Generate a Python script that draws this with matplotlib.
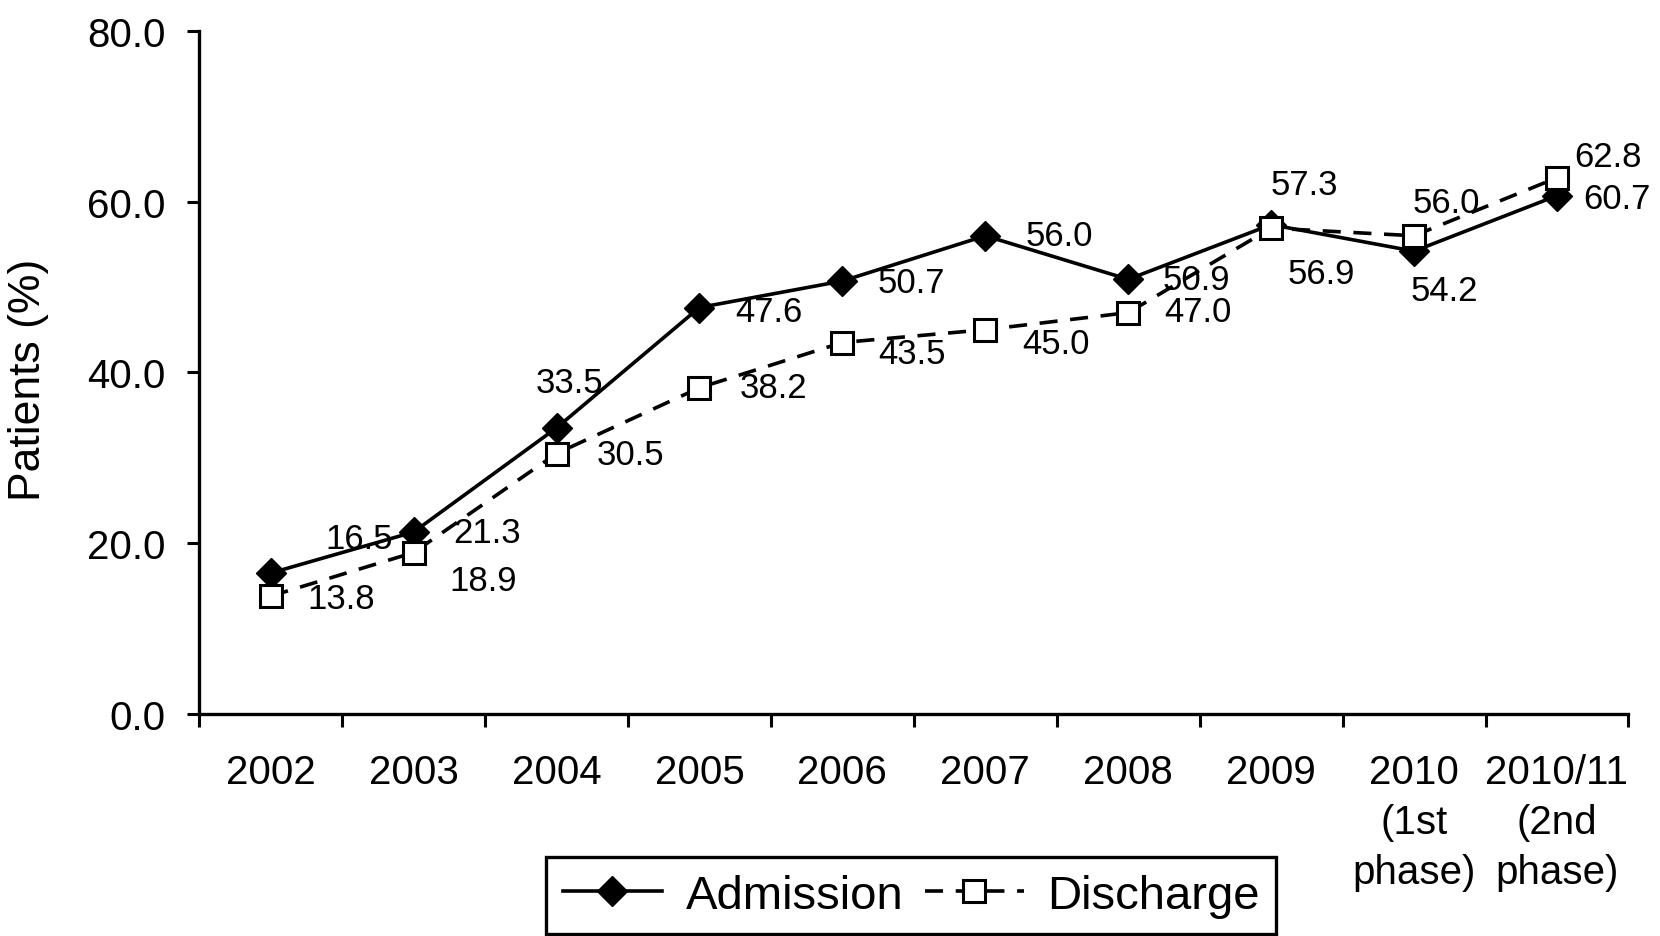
import matplotlib
matplotlib.use('Agg')
import matplotlib.pyplot as plt
import numpy as np

plt.rcParams['font.family'] = ['Liberation Sans', 'DejaVu Sans']

years = ['2002', '2003', '2004', '2005', '2006', '2007', '2008', '2009',
         '2010\n(1st\nphase)', '2010/11\n(2nd\nphase)']
admission = [16.5, 21.3, 33.5, 47.6, 50.7, 56.0, 50.9, 57.3, 54.2, 60.7]
discharge = [13.8, 18.9, 30.5, 38.2, 43.5, 45.0, 47.0, 56.9, 56.0, 62.8]

# label offsets in points (Excel-style placement)
adm_off = [(64, 25), (53, 0), (9, 33), (50, -3), (50, -1), (53, 0),
           (49, 0), (24, 29), (22, -28), (43, -2)]
dis_off = [(51, -2), (50, -20), (53, -1), (53, 0), (50, -8), (51, -10),
           (50, 1), (36, -33), (23, 24), (37, 15)]

x = np.arange(len(years))

fig = plt.figure(figsize=(16.6, 9.37), dpi=100)
ax = fig.add_axes([0.120, 0.237, 0.861, 0.729])

ax.plot(x, admission, color='black', lw=2.6, marker='D', ms=15,
        mfc='black', mec='black', label='Admission', zorder=3)
ax.plot(x, discharge, color='black', lw=2.6, ls=(0, (5, 3.5)), marker='s',
        ms=16, mfc='white', mec='black', mew=2.2, label='Discharge', zorder=3)

for i in range(len(x)):
    ax.annotate(f'{admission[i]:.1f}', (x[i], admission[i]), xytext=adm_off[i],
                textcoords='offset points', ha='center', va='center', fontsize=25)
    ax.annotate(f'{discharge[i]:.1f}', (x[i], discharge[i]), xytext=dis_off[i],
                textcoords='offset points', ha='center', va='center', fontsize=25)

ax.set_xlim(-0.5, len(years) - 0.5)
ax.set_ylim(0, 80)
ax.set_yticks(np.arange(0, 81, 20))
ax.set_yticklabels([f'{v:.1f}' for v in np.arange(0, 81, 20)])
ax.set_xticks(np.arange(-0.5, len(years), 1.0))
ax.set_xticklabels([])
ax.set_xticks(x, minor=True)
ax.set_xticklabels(years, minor=True, linespacing=1.4)

ax.tick_params(axis='y', which='major', direction='out', length=9, width=2.2,
               labelsize=29, pad=15)
ax.tick_params(axis='x', which='major', direction='out', length=9, width=2.2)
ax.tick_params(axis='x', which='minor', length=0, labelsize=29, pad=28)

for s in ['top', 'right']:
    ax.spines[s].set_visible(False)
for s in ['left', 'bottom']:
    ax.spines[s].set_linewidth(2.4)

ax.set_ylabel('Patients (%)', fontsize=32)
ax.yaxis.set_label_coords(-0.105, 0.49)

leg = fig.legend(loc='lower center', bbox_to_anchor=(0.549, 0.002), ncol=2,
                 fontsize=34, frameon=True, fancybox=False, framealpha=1,
                 edgecolor='black', handlelength=2.1, handletextpad=0.5,
                 columnspacing=0.45, borderpad=0.35, borderaxespad=0)
leg.get_frame().set_linewidth(2.4)

fig.savefig('out.png', dpi=100)
